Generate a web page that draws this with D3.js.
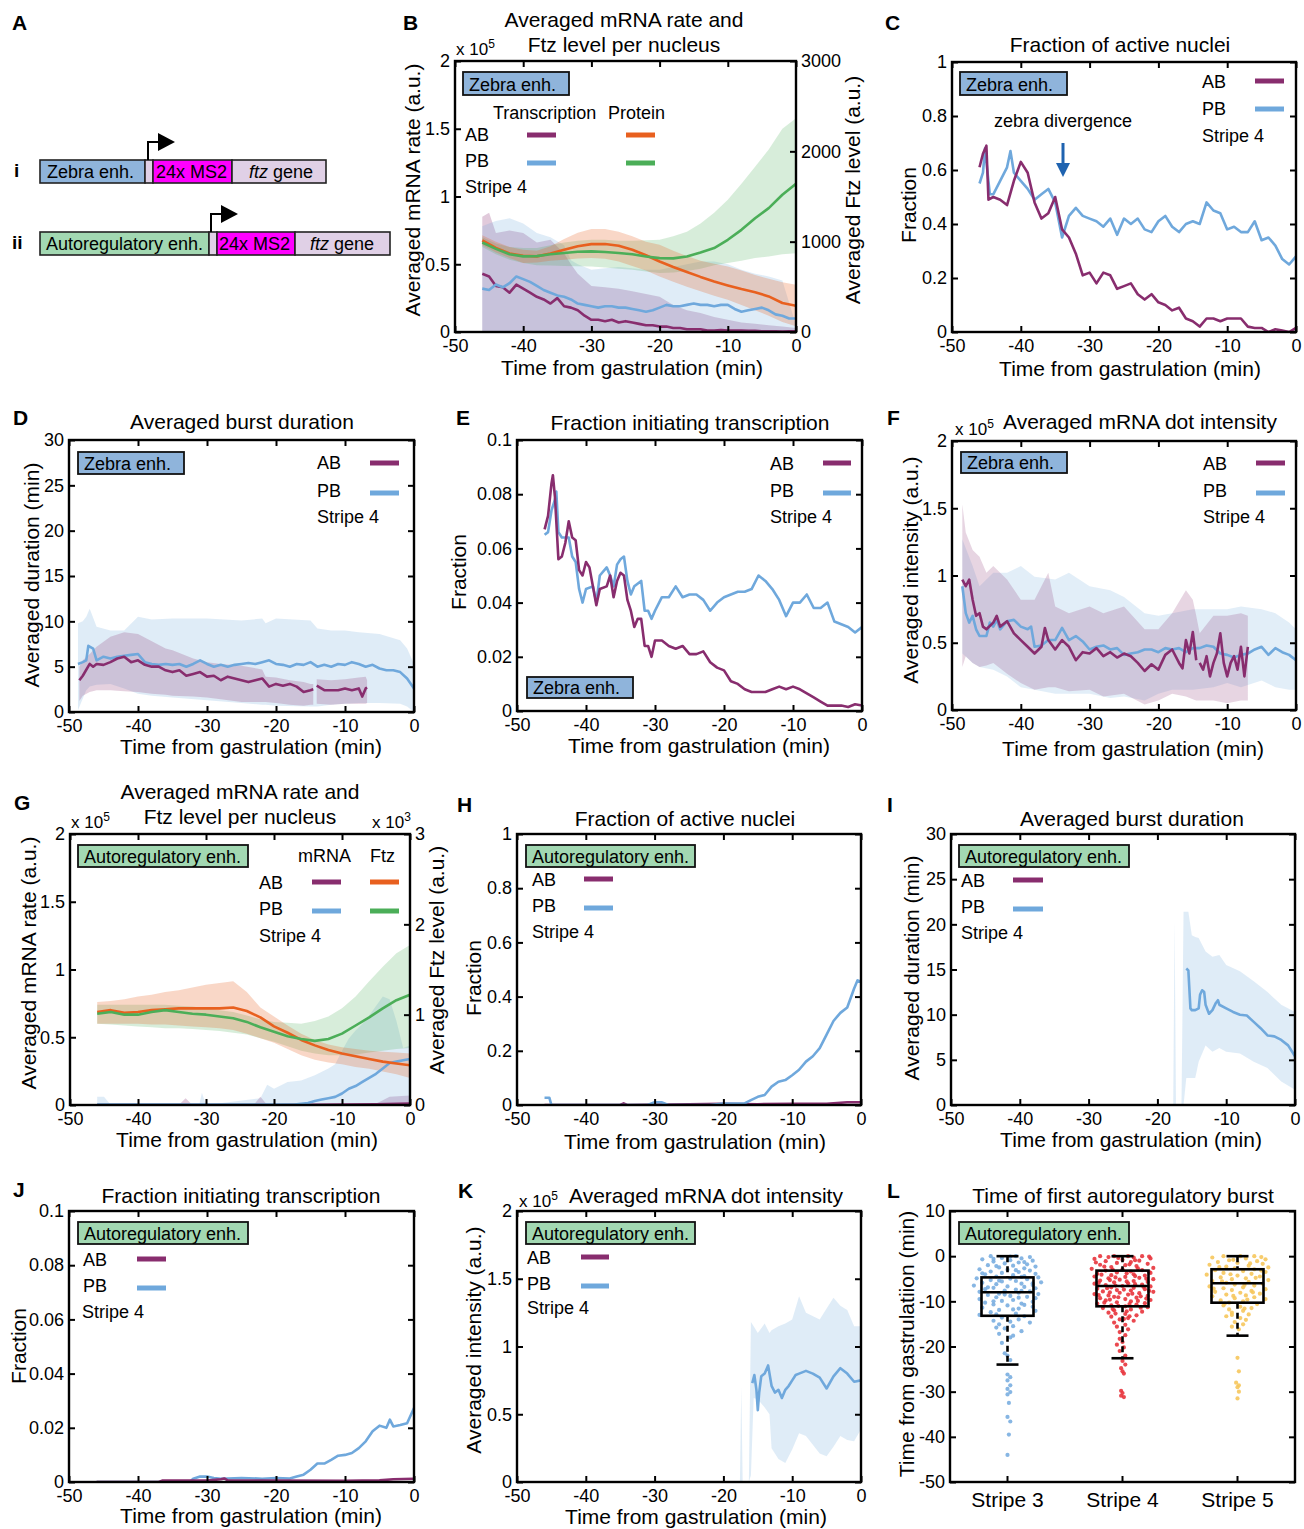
<!DOCTYPE html>
<html>
<head>
<meta charset="utf-8">
<script src="https://cdn.jsdelivr.net/npm/d3@7"></script>
<style>
body { margin: 0; background: #fff; }
</style>
</head>
<body>
<script>
// colours
var cAB = "#882d6e", cPB = "#6fa8dc", cOr = "#e8601f", cGr = "#4bae58";
var zebraFill = "#8fb4db", autoFill = "#a2d8b2", lavender = "#e0d0e6", magenta = "#ff00ff";
var FONT = '"Liberation Sans", Arial, Helvetica, sans-serif';

// ---------- B : zebra, mRNA rate (x1e5) and Ftz level ----------
var bProtT   = [-46,-44,-42,-40,-38,-36,-34,-32,-30,-28,-26,-24,-22,-20,-18,-16,-14,-12,-10,-8,-6,-4,-2,0];
var bFtzAB   = [1013,930,870,844,837,870,910,950,973,975,955,910,850,781,720,665,610,560,516,475,440,394,321,291];
var bFtzABhi = [1070,1000,940,910,900,950,1030,1100,1139,1140,1110,1060,1000,966,900,840,790,755,726,680,630,590,550,523];
var bFtzABlo = [960,880,820,763,770,790,800,815,818,810,780,730,680,615,555,500,450,400,358,300,240,180,110,63];
var bFtzPB   = [991,920,860,837,840,860,875,888,892,885,875,860,835,818,815,835,880,929,1021,1131,1260,1371,1519,1640];
var bFtzPBhi = [1050,980,940,929,930,960,990,1010,1021,1020,1010,1010,1015,1021,1060,1110,1200,1320,1463,1640,1830,2020,2250,2366];
var bFtzPBlo = [940,860,800,763,740,735,730,728,726,715,700,690,670,652,660,675,700,740,763,790,820,837,860,873];
var bRateT  = [-46,-45,-44,-43,-42,-41,-40,-39,-38,-37,-36,-35,-34,-33,-32,-31,-30,-29,-28,-27,-26,-25,-24,-23,-22,-21,-20,-19,-18,-17,-16,-15,-14,-13,-12,-11,-10,-9,-8,-7,-6,-5,-4,-3,-2,-1,0];
var bRateAB = [0.43,0.41,0.34,0.33,0.29,0.35,0.32,0.29,0.26,0.24,0.21,0.25,0.19,0.18,0.16,0.12,0.09,0.09,0.08,0.09,0.07,0.08,0.07,0.06,0.05,0.05,0.04,0.04,0.03,0.03,0.02,0.02,0.02,0.01,0.01,0.015,0.01,0.01,0.01,0.008,0.008,0.006,0.005,0.005,0.004,0.005,0.005];
var bRatePB = [0.32,0.31,0.35,0.33,0.36,0.41,0.39,0.37,0.34,0.31,0.29,0.27,0.26,0.24,0.21,0.20,0.19,0.18,0.19,0.19,0.18,0.18,0.17,0.16,0.15,0.16,0.18,0.20,0.19,0.19,0.20,0.21,0.20,0.20,0.19,0.20,0.20,0.17,0.15,0.16,0.17,0.18,0.16,0.13,0.12,0.10,0.10];
var bBandT    = [-46,-45,-44,-42,-40,-38,-36,-34,-33,-32,-30,-28,-26,-24,-22,-20,-18,-16,-14,-12,-10,-8,-6,-4,-2,0];
var bRateABhi = [0.85,0.88,0.73,0.75,0.73,0.66,0.68,0.58,0.50,0.43,0.34,0.33,0.32,0.30,0.28,0.26,0.20,0.16,0.14,0.11,0.09,0.07,0.06,0.05,0.04,0.03];
var bRatePBhi = [0.78,0.80,0.82,0.84,0.80,0.73,0.70,0.64,0.53,0.50,0.46,0.47,0.48,0.47,0.46,0.46,0.48,0.50,0.52,0.52,0.50,0.46,0.43,0.41,0.38,0.05];

// ---------- C : fraction of active nuclei (zebra) ----------
var cT_AB = [-46,-45.5,-45,-44.7,-44,-43,-42,-41,-40,-39,-38,-37,-36,-35,-34,-33,-32,-31,-30,-29,-28,-27,-26,-25,-24,-23,-22,-21,-20,-19,-18,-17,-16,-15,-14,-13,-12,-11,-10,-9,-8,-7,-6,-5,-4,-3,-2,-1,0];
var cFracAB = [0.61,0.66,0.69,0.49,0.50,0.49,0.47,0.56,0.63,0.59,0.48,0.42,0.44,0.50,0.38,0.35,0.29,0.21,0.22,0.18,0.22,0.21,0.16,0.17,0.18,0.14,0.12,0.14,0.11,0.10,0.08,0.09,0.05,0.04,0.02,0.05,0.05,0.04,0.05,0.05,0.05,0.02,0.015,0.015,0.0,0.01,0.005,0.0,0.015];
var cT_PB = [-46,-45.5,-45.2,-44.5,-44,-43,-42,-41.5,-41,-40,-39,-38,-37,-36,-35,-34,-33,-32,-31,-30,-29,-28,-27,-26,-25,-24,-23,-22,-21,-20,-19,-18,-17,-16,-15,-14,-13,-12,-11,-10,-9,-8,-7,-6,-5,-4,-3,-2,-1,0];
var cFracPB = [0.55,0.59,0.68,0.51,0.51,0.56,0.61,0.67,0.59,0.56,0.53,0.49,0.51,0.53,0.48,0.35,0.43,0.46,0.43,0.42,0.41,0.39,0.42,0.36,0.42,0.40,0.42,0.38,0.37,0.41,0.43,0.39,0.37,0.40,0.41,0.40,0.48,0.45,0.44,0.38,0.39,0.37,0.37,0.41,0.34,0.35,0.32,0.27,0.25,0.28];

// ---------- D : burst duration (zebra) ----------
var dT_AB  = [-48.5,-48,-47,-46.5,-46,-45,-44,-43,-42,-41,-40,-39,-38,-37,-36,-35,-34,-33,-32,-31,-30,-29,-28,-27,-26,-25,-24,-23,-22,-21,-20,-19,-18,-17,-16,-15,-14.6,-14.4,-14.1,-13,-12,-11,-10,-9,-8,-7.5,-7,-6.8];
var dDurAB = [3.5,4.0,5.3,5.0,5.3,5.2,5.5,5.9,6.1,5.5,5.7,5.2,5.0,5.0,4.6,4.4,4.6,4.0,4.2,4.4,3.9,4.0,3.5,3.9,3.7,3.5,3.3,3.5,3.7,2.8,3.1,2.9,3.1,2.8,2.2,2.4,2.5,NaN,2.9,2.4,2.4,2.4,2.6,2.4,2.6,1.7,2.6,2.7];
var dBandT_AB = [-48.5,-48,-47,-46,-44,-42,-40,-38,-36,-35,-32,-30,-28,-25,-22,-21.5,-20,-18,-16,-15,-14.6,-14.4,-14.1,-12,-10,-8,-7,-6.8];
var dDurABhi  = [5.0,5.7,6.4,7.2,8.3,8.8,8.6,7.8,7.0,6.8,5.9,5.5,5.3,5.1,4.7,3.9,3.8,3.5,3.3,3.1,3.1,NaN,3.6,3.5,3.6,3.8,3.9,3.5];
var dDurABlo  = [1.2,1.8,2.2,2.4,2.4,2.3,2.2,2.0,1.9,1.8,1.7,1.6,1.4,1.1,1.1,1.1,1.0,0.8,0.7,0.8,0.8,NaN,0.9,0.8,0.9,0.9,0.9,1.0];
var dT_PB  = [-48.7,-48,-47.5,-47.2,-46.5,-46,-45,-44,-43,-42,-41,-40,-39,-38,-37,-36,-35,-34,-33,-32,-31,-30,-29,-28,-27,-26,-25,-24,-23,-22,-21,-20,-19,-18,-17,-16,-15,-14,-13,-12,-11,-10,-9,-8,-7,-6,-5,-4,-3,-2,-1,0];
var dDurPB = [5.3,5.5,5.7,7.3,7.0,5.7,6.1,5.9,6.1,6.2,6.3,6.4,5.5,5.3,5.2,5.3,5.2,5.3,5.0,5.3,5.7,5.3,5.0,5.2,5.0,5.2,5.3,5.4,5.3,5.5,5.7,5.3,5.2,5.0,5.3,5.2,5.5,5.0,5.2,5.0,5.3,5.2,5.5,5.3,5.0,5.2,4.8,4.6,4.6,4.4,3.7,2.6];
var dBandT_PB = [-48.7,-48,-47.5,-47,-46,-44,-42,-40,-38,-35,-30,-25,-22,-21.5,-20,-15,-14,-12,-10,-8,-5,-2,-1,0];
var dDurPBhi  = [9.8,10.0,10.5,11.4,9.4,9.0,9.0,10.5,10.2,10.3,10.3,10.1,10.3,9.8,10.3,10.1,9.2,9.0,9.0,8.8,8.6,7.9,7.0,5.3];
var dDurPBlo  = [0.2,1.5,2.4,2.8,3.0,3.1,2.6,2.0,1.8,1.6,1.3,1.0,0.8,0.8,0.7,0.6,0.6,0.8,0.9,1.0,1.0,0.9,0.6,0.0];

// ---------- E : fraction initiating transcription (zebra) ----------
var eT_AB = [-46,-45.5,-45,-44.8,-44.5,-44,-43.5,-43,-42.5,-42,-41.5,-41,-40.5,-40,-39.5,-39,-38.5,-38,-37,-36.5,-36,-35.5,-35,-34.5,-34,-33.5,-33,-32.5,-32,-31.5,-31,-30.5,-30,-29,-28,-27,-26,-25,-24,-23,-22,-21,-20,-19,-18,-17,-16,-15,-14,-13,-12,-11,-10,-9,-8,-7,-6,-5,-4,-3,-2,-1,0];
var eInitAB = [0.067,0.072,0.084,0.087,0.079,0.056,0.057,0.062,0.070,0.064,0.063,0.052,0.050,0.055,0.053,0.046,0.039,0.045,0.046,0.050,0.042,0.048,0.051,0.050,0.041,0.037,0.031,0.034,0.034,0.024,0.024,0.020,0.026,0.026,0.024,0.023,0.024,0.021,0.021,0.022,0.018,0.016,0.015,0.011,0.010,0.008,0.007,0.007,0.007,0.008,0.009,0.008,0.009,0.008,0.0065,0.005,0.0035,0.002,0.002,0.002,0.0015,0.0025,0.002];
var eT_PB = [-46,-45.5,-45,-44.5,-44.3,-44,-43.5,-43,-42.5,-42,-41.5,-41,-40.5,-40,-39,-38.5,-38,-37,-36.5,-36,-35.5,-35,-34.5,-34,-33.5,-33,-32,-31.5,-31,-30.5,-30,-29,-28,-27,-26,-25,-24,-23,-22,-21,-20,-19,-18,-17,-16,-15,-14,-13,-12,-11,-10,-9,-8,-7,-6,-5,-4,-3,-2,-1,0];
var eInitPB = [0.065,0.066,0.074,0.078,0.081,0.066,0.064,0.064,0.064,0.057,0.055,0.045,0.040,0.045,0.046,0.040,0.050,0.053,0.050,0.046,0.054,0.056,0.057,0.048,0.043,0.046,0.048,0.037,0.037,0.034,0.037,0.042,0.042,0.046,0.042,0.043,0.043,0.041,0.037,0.040,0.042,0.043,0.044,0.044,0.045,0.050,0.048,0.045,0.041,0.035,0.040,0.040,0.043,0.038,0.038,0.040,0.033,0.032,0.031,0.029,0.031];

// ---------- F : mRNA dot intensity (zebra, x1e5) ----------
var fT_AB = [-48.5,-48,-47.5,-47,-46.5,-46,-45.5,-45,-44,-43.5,-43,-42,-41,-40,-39,-38,-37,-36.5,-36,-35,-34,-33,-32,-31,-30,-29,-28,-27,-26,-25,-24,-23,-22,-21,-20,-19,-18,-17,-16.5,-16,-15.5,-15,-14.5,-14.3,-14,-13.5,-13,-12.5,-12,-11.5,-11,-10.5,-10,-9.5,-9,-8.5,-8,-7.5,-7];
var fIntAB = [0.97,0.92,0.97,0.82,0.70,0.72,0.62,0.60,0.65,0.70,0.62,0.66,0.57,0.52,0.47,0.42,0.47,0.61,0.52,0.45,0.52,0.47,0.37,0.43,0.42,0.46,0.40,0.43,0.39,0.42,0.40,0.35,0.29,0.34,0.30,0.41,0.45,0.35,0.31,0.52,0.42,0.58,0.37,NaN,0.35,0.30,0.40,0.25,0.35,0.42,0.57,0.35,0.25,0.35,0.40,0.30,0.47,0.25,0.47];
var fT_PB = [-48.5,-48,-47.5,-47,-46.5,-46,-45,-44.5,-44,-43.5,-43,-42,-41,-40,-39,-38.5,-38,-37,-36,-35,-34,-33,-32,-31,-30,-29,-28,-27,-26,-25,-24,-23,-22,-21,-20,-19,-18,-17,-16,-15,-14,-13,-12,-11,-10,-9,-8,-7,-6,-5,-4,-3,-2,-1,0];
var fIntPB = [0.92,0.72,0.65,0.70,0.60,0.55,0.55,0.65,0.62,0.67,0.60,0.66,0.67,0.62,0.60,0.62,0.47,0.48,0.52,0.52,0.61,0.52,0.55,0.51,0.45,0.47,0.48,0.45,0.46,0.41,0.42,0.43,0.45,0.45,0.43,0.46,0.45,0.46,0.43,0.46,0.46,0.48,0.47,0.42,0.41,0.39,0.41,0.42,0.45,0.47,0.41,0.46,0.43,0.41,0.37];
var fBandT_AB = [-48.5,-48,-47,-46,-45,-44,-42,-40,-38,-36,-35,-33,-30,-28,-25,-22,-20,-18,-16,-15,-14.5,-14,-12,-10,-8,-7];
var fIntABhi  = [1.53,1.32,1.19,1.14,1.02,1.07,0.97,0.82,0.82,1.02,0.77,0.72,0.77,0.72,0.77,0.60,0.60,0.72,0.89,0.82,0.70,0.57,0.70,0.70,0.72,0.70];
var fIntABlo  = [0.32,0.40,0.35,0.32,0.33,0.35,0.27,0.20,0.15,0.17,0.17,0.14,0.15,0.10,0.12,0.04,0.07,0.12,0.10,0.08,0.07,0.07,0.07,0.05,0.07,0.07];
var fBandT_PB = [-48.5,-47,-46,-44,-42,-40,-38,-35,-33,-30,-27,-25,-22,-20,-18,-15,-12,-10,-8,-5,-3,-1,0];
var fIntPBhi  = [1.27,1.07,0.92,1.02,1.02,1.07,0.99,0.97,1.02,0.92,0.89,0.84,0.72,0.70,0.72,0.75,0.75,0.75,0.77,0.75,0.72,0.65,0.60];
var fIntPBlo  = [0.42,0.35,0.32,0.30,0.25,0.17,0.15,0.12,0.12,0.12,0.09,0.10,0.07,0.12,0.15,0.15,0.17,0.20,0.17,0.22,0.17,0.15,0.15];

// ---------- G : autoregulatory, mRNA rate (x1e5) and Ftz (x1e3) ----------
var gProtT   = [-46,-44,-42,-40,-38,-36,-34,-32,-30,-28,-26,-24,-22,-20,-18,-16,-14,-12,-10,-8,-6,-4,-2,0];
var gFtzAB   = [1.03,1.05,1.02,1.03,1.05,1.06,1.07,1.07,1.07,1.07,1.08,1.04,0.97,0.87,0.80,0.72,0.66,0.61,0.57,0.54,0.51,0.48,0.46,0.44];
var gFtzABhi = [1.14,1.15,1.17,1.20,1.22,1.25,1.27,1.30,1.33,1.35,1.37,1.25,1.08,0.98,0.88,0.79,0.72,0.67,0.64,0.62,0.60,0.59,0.58,0.57];
var gFtzABlo = [0.90,0.90,0.90,0.90,0.89,0.89,0.88,0.87,0.86,0.85,0.83,0.79,0.74,0.69,0.62,0.55,0.50,0.47,0.45,0.42,0.40,0.37,0.34,0.30];
var gFtzPB   = [1.01,1.03,1.00,1.00,1.03,1.05,1.03,1.01,1.00,0.98,0.96,0.92,0.86,0.81,0.76,0.73,0.71,0.73,0.79,0.88,0.97,1.07,1.16,1.22];
var gFtzPBhi = [1.11,1.11,1.11,1.11,1.11,1.11,1.10,1.09,1.07,1.05,1.03,0.99,0.95,0.92,0.91,0.90,0.93,0.98,1.07,1.20,1.37,1.53,1.68,1.77];
var gFtzPBlo = [0.90,0.89,0.88,0.87,0.86,0.85,0.85,0.84,0.83,0.82,0.80,0.78,0.74,0.70,0.65,0.60,0.57,0.55,0.55,0.56,0.58,0.60,0.62,0.63];
var gRateT_PB = [-46,-40,-30,-20,-17,-15,-14,-13,-12,-11,-10,-9,-8,-7,-6,-5,-4,-3,-2,-1,0];
var gRatePB   = [0.003,0.003,0.003,0.003,0.004,0.015,0.03,0.04,0.05,0.06,0.085,0.12,0.14,0.17,0.20,0.23,0.27,0.31,0.32,0.33,0.34];
var gBandT_PB = [-46,-45,-44,-31,-30.6,-30,-22,-21,-20,-18,-16,-14,-12,-11,-10,-9,-8,-7,-6,-5,-4,-3,-2,-1,0];
var gRatePBhi = [0.06,0.06,0.0,0.0,0.09,0.0,0.05,0.15,0.12,0.17,0.18,0.22,0.27,0.30,0.40,0.49,0.55,0.60,0.66,0.73,0.80,0.78,0.62,0.42,0.44];
var gRateT_AB = [-46,-20,-5,0];
var gRateAB   = [0,0,0.005,0.01];
var gBandT_AB = [-46,-34,-33,-32,-23,-22,-21,-5,-3,0];
var gRateABhi = [0,0,0.05,0,0,0.06,0,0.01,0.06,0.07];

// ---------- H : fraction of active nuclei (autoregulatory) ----------
var hT_PB = [-46,-45.3,-45,-31,-30,-29,-28,-22,-20,-17,-16,-15,-14,-13,-12,-11,-10,-9,-8,-7,-6,-5,-4,-3,-2,-1,-0.5,0];
var hFracPB = [0.027,0.027,0,0,0.01,0.01,0,0,0.005,0.005,0.018,0.03,0.037,0.068,0.086,0.092,0.11,0.13,0.16,0.18,0.21,0.26,0.31,0.34,0.36,0.43,0.46,0.455];
var hT_AB = [-46,-35,-34.5,-34,-25,-20,-15,-10,-5,-2,0];
var hFracAB = [0,0,0.006,0,0.003,0.004,0.003,0.004,0.004,0.01,0.01];

// ---------- I : burst duration (autoregulatory) ----------
var iT_PB = [-15.8,-15.5,-15.2,-15,-14.5,-14,-13.8,-13.5,-13.2,-13,-12.5,-12,-11.5,-11.2,-11,-10,-9,-8,-7,-6,-5,-4,-3,-2,-1,0];
var iDurPB = [15.1,14.9,10.7,10.5,10.5,10.7,12.2,12.7,12.5,11.1,10.1,10.5,11.3,11.6,11.1,10.7,10.3,10.0,9.9,9.2,8.5,7.7,7.6,7.2,6.6,5.4];
var iBandT = [-17.7,-17.5,-17.3,-16.5,-16.2,-15.8,-15.5,-15,-14.5,-14,-13,-12,-11,-10,-8,-6,-4,-2,0];
var iDurPBhi = [0,20.3,0,0,21.4,21.4,21.4,18.8,18.6,18.5,17.0,16.4,16.6,15.5,14.8,13.7,12.5,11.1,10.3];
var iDurPBlo = [0,0,0,0,0,3.0,3.0,3.0,3.0,4.8,6.6,5.9,6.3,5.9,5.7,4.8,4.1,2.6,1.7];

// ---------- J : fraction initiating transcription (autoregulatory) ----------
var jT_PB = [-46,-32.5,-32,-31,-30,-29,-28,-25,-22,-20,-18,-17,-16,-15,-14,-13,-12,-11,-10,-9,-8,-7,-6,-5,-4,-3.5,-3,-2,-1,0];
var jInitPB = [0,0,0.0012,0.002,0.002,0.0015,0.0012,0.0015,0.0012,0.0015,0.0013,0.002,0.0027,0.0045,0.0068,0.0068,0.0082,0.0097,0.010,0.0107,0.0125,0.015,0.0187,0.0208,0.020,0.023,0.0205,0.021,0.0217,0.0273];
var jT_AB = [-46,-37,-36.5,-30,-28,-27.5,-27,-20,-10,-5,-3,0];
var jInitAB = [0,0,0.0005,0.0005,0.001,0.0013,0.0006,0.0005,0.0004,0.0006,0.001,0.0012];

// ---------- K : mRNA dot intensity (autoregulatory, x1e5) ----------
var kT_PB = [-15.8,-15.5,-15.2,-15,-14.8,-14.5,-14,-13.5,-13,-12.5,-12,-11.5,-11,-10.5,-10,-9.5,-9,-8,-7,-6,-5,-4,-3,-2,-1,0];
var kIntPB = [0.73,0.79,0.68,0.53,0.66,0.78,0.80,0.86,0.71,0.66,0.68,0.62,0.68,0.71,0.75,0.79,0.80,0.82,0.80,0.77,0.69,0.78,0.84,0.80,0.74,0.75];
var kBandT = [-17.6,-17.4,-17.2,-16.3,-16,-15.6,-15,-14,-13.3,-13,-12,-11,-10,-9,-8,-6,-5,-4,-3,-2,-1,0];
var kIntPBhi = [0,0.7,0,0,1.18,1.15,1.10,1.17,1.10,1.12,1.15,1.17,1.20,1.37,1.25,1.20,1.28,1.36,1.30,1.27,1.15,1.15];
var kIntPBlo = [0,0,0,0,0.05,0.62,0.61,0.55,0.50,0.25,0.17,0.14,0.24,0.36,0.34,0.21,0.19,0.26,0.34,0.31,0.30,0.39];

// ---------- L : time of first autoregulatory burst ----------
var stripes = ["Stripe 3", "Stripe 4", "Stripe 5"];
var boxQ1  = [-13.2, -11.1, -10.3];
var boxMed = [-8.0, -6.6, -6.0];
var boxQ3  = [-4.7, -3.2, -2.9];
var whiskLo = [-24.0, -22.6, -17.6];
var whiskHi = [0, 0, 0];
var dotColors = ["#7aaee0", "#e8343c", "#f6c75c"];
// [time, horizontal jitter (-1..1)]
var s3Pts = [[0,-0.6],[0,0.3],[-0.2,0.8],[-0.4,-0.2],[-0.5,0.5],[-0.7,-0.9],[-0.9,0.1],[-1.0,0.9],[-1.2,-0.5],[-1.4,0.4],[-1.6,-0.1],[-1.8,0.7],[-2.0,-0.7],[-2.1,0.2],[-2.3,1.0],[-2.5,-0.3],[-2.7,0.6],[-2.9,-1.0],[-3.0,0.0],[-3.2,0.8],[-3.4,-0.6],[-3.5,0.4],[-3.7,-0.2],[-3.9,1.0],[-4.0,-0.8],[-4.2,0.2],[-4.4,0.6],[-4.5,-0.4],[-4.7,1.1],[-4.9,-1.1],[-5.0,0.1],[-5.1,0.7],[-5.3,-0.6],[-5.5,0.3],[-5.6,-0.2],[-5.8,1.2],[-5.9,-0.9],[-6.1,0.5],[-6.2,-0.4],[-6.4,0.9],[-6.5,-1.2],[-6.7,0.0],[-6.8,0.6],[-7.0,-0.5],[-7.1,1.0],[-7.3,-0.8],[-7.4,0.3],[-7.6,-0.1],[-7.8,0.8],[-7.9,-1.0],[-8.1,0.4],[-8.3,-0.3],[-8.4,1.1],[-8.6,-0.7],[-8.8,0.1],[-9.0,0.7],[-9.1,-0.4],[-9.3,1.0],[-9.5,-1.0],[-9.7,0.2],[-9.9,-0.2],[-10.1,0.9],[-10.3,-0.8],[-10.5,0.5],[-10.7,-0.5],[-10.9,0.0],[-11.2,0.9],[-11.4,-0.9],[-11.6,0.4],[-11.9,-0.3],[-12.1,1.0],[-12.4,-0.6],[-12.7,0.3],[-13.0,-1.0],[-13.3,0.6],[-13.6,-0.2],[-14.0,0.4],[-14.3,-0.5],[-14.7,0.8],[-15.1,-0.3],[-15.5,0.2],[-16.0,-0.1],[-16.6,0.5],[-17.2,-0.3],[-18.0,0.1],[-19.2,-0.2],[-21.5,-0.1],[-22.0,0.0],[-23.0,0.1],[-26.2,0.0],[-26.8,0.1],[-27.5,0.0],[-28.6,0.1],[-29.4,0.0],[-30.1,0.1],[-30.6,0.0],[-32.5,0.05],[-35.6,0.0],[-36.6,0.1],[-39.5,0.05],[-44.0,0.0],
  [-0.1,0.1],[-0.6,-0.5],[-1.3,0.6],[-2.2,-0.4],[-3.1,0.3],[-3.8,-0.9],[-4.6,0.5],[-5.4,-0.3],[-6.0,0.9],[-6.9,-0.7],[-7.7,0.5],[-8.5,-0.1],[-9.2,0.4],[-10.0,-0.5],[-10.8,0.6],[-11.8,0.2],[-12.9,-0.4],[-14.5,0.1],[-15.8,-0.4],[-17.6,0.2]];
var s4Pts = [[0,-0.8],[0,-0.3],[0,0.2],[0,0.7],[-0.2,-0.5],[-0.3,0.4],[-0.5,1.0],[-0.6,-1.0],[-0.8,0.0],[-1.0,0.6],[-1.1,-0.6],[-1.3,0.3],[-1.5,-0.2],[-1.7,0.9],[-1.9,-0.8],[-2.0,0.1],[-2.2,0.5],[-2.4,-0.4],[-2.6,1.1],[-2.8,-1.1],[-2.9,0.0],[-3.1,0.7],[-3.2,-0.6],[-3.4,0.3],[-3.6,-0.2],[-3.7,1.0],[-3.9,-0.9],[-4.0,0.4],[-4.2,-0.4],[-4.3,0.8],[-4.5,-1.0],[-4.6,0.1],[-4.8,0.6],[-4.9,-0.5],[-5.1,1.1],[-5.2,-0.1],[-5.4,-0.8],[-5.5,0.4],[-5.7,0.9],[-5.8,-0.3],[-6.0,0.2],[-6.1,-1.0],[-6.3,0.7],[-6.4,-0.6],[-6.6,0.0],[-6.7,1.0],[-6.9,-0.4],[-7.0,0.4],[-7.2,-0.9],[-7.3,0.8],[-7.5,-0.2],[-7.6,0.3],[-7.8,-0.7],[-7.9,1.1],[-8.1,-0.1],[-8.2,0.6],[-8.4,-1.0],[-8.5,0.2],[-8.7,-0.5],[-8.8,0.9],[-9.0,-0.3],[-9.2,0.5],[-9.3,-0.8],[-9.5,0.1],[-9.7,1.0],[-9.8,-0.6],[-10.0,0.3],[-10.2,-0.2],[-10.4,0.8],[-10.5,-0.9],[-10.7,0.5],[-10.9,-0.4],[-11.1,0.1],[-11.3,0.9],[-11.5,-0.7],[-11.8,0.3],[-12.0,-0.3],[-12.3,0.7],[-12.5,-0.5],[-12.8,0.1],[-13.1,0.5],[-13.4,-0.4],[-13.7,0.2],[-14.0,-0.1],[-14.3,0.4],[-14.7,-0.3],[-15.2,0.1],[-15.6,-0.2],[-16.2,0.2],[-16.8,-0.1],[-17.5,0.1],[-18.3,-0.1],[-19.0,0.0],[-19.6,-0.2],[-20.2,0.05],[-21.0,-0.1],[-22.0,0.1],[-23.2,0.0],[-24.0,0.1],[-24.8,-0.05],[-25.5,0.0],[-26.0,0.05],[-29.8,-0.05],[-30.3,0.0],[-30.9,-0.05],[-31.2,0.05],
  [-0.1,0.95],[-0.4,-0.15],[-0.9,0.45],[-1.4,-0.95],[-1.8,0.25],[-2.3,-0.65],[-2.7,0.55],[-3.0,-0.35],[-3.5,0.95],[-3.8,0.15],[-4.1,-0.75],[-4.4,0.45],[-4.7,-0.25],[-5.0,0.85],[-5.3,-0.45],[-5.6,0.15],[-5.9,-0.85],[-6.2,0.45],[-6.5,-0.25],[-6.8,0.75],[-7.1,-0.55],[-7.4,0.05],[-7.7,0.95],[-8.0,-0.45],[-8.3,0.35],[-8.6,-0.85],[-8.9,0.65],[-9.1,-0.15],[-9.4,0.85],[-9.6,-0.45],[-9.9,0.55],[-10.3,-0.65],[-10.6,0.25],[-11.0,-0.15],[-11.4,0.65],[-11.7,-0.35],[-12.2,0.15],[-12.7,-0.25],[-13.3,0.25],[-13.9,0.05]];
var s5Pts = [[0,-0.5],[0,0.1],[0,0.6],[-0.3,-0.9],[-0.5,0.3],[-0.7,1.0],[-0.9,-0.3],[-1.1,0.7],[-1.3,-0.7],[-1.5,0.0],[-1.7,0.9],[-1.9,-1.0],[-2.1,0.4],[-2.3,-0.4],[-2.5,1.1],[-2.7,-0.1],[-2.9,0.6],[-3.1,-0.8],[-3.3,0.2],[-3.5,1.0],[-3.7,-0.5],[-3.9,0.5],[-4.1,-1.1],[-4.3,0.0],[-4.5,0.8],[-4.7,-0.6],[-4.9,0.3],[-5.1,-0.2],[-5.3,1.1],[-5.5,-0.9],[-5.7,0.4],[-5.9,-0.4],[-6.1,0.9],[-6.3,-0.1],[-6.5,0.6],[-6.7,-1.0],[-6.9,0.2],[-7.1,-0.5],[-7.3,1.0],[-7.5,-0.2],[-7.7,0.5],[-7.9,-0.8],[-8.1,0.1],[-8.3,0.8],[-8.5,-0.4],[-8.7,0.3],[-8.9,-0.9],[-9.1,0.6],[-9.3,-0.1],[-9.5,1.0],[-9.8,-0.6],[-10.0,0.2],[-10.3,-0.3],[-10.6,0.7],[-10.9,-0.5],[-11.2,0.1],[-11.5,0.5],[-11.8,-0.3],[-12.1,0.2],[-12.5,-0.2],[-12.9,0.4],[-13.3,-0.4],[-13.7,0.1],[-14.1,0.3],[-14.6,-0.1],[-15.1,0.2],[-15.6,-0.2],[-16.2,0.05],[-22.5,0.0],[-25.5,0.05],[-28.0,-0.05],[-28.6,0.05],[-29.0,0.0],[-30.0,0.05],[-31.5,0.0],
  [-0.2,0.85],[-0.8,-0.15],[-1.6,0.45],[-2.4,-0.65],[-3.2,0.85],[-4.0,-0.25],[-4.8,0.65],[-5.6,-0.55],[-6.4,0.25],[-7.2,-0.85],[-8.0,0.55],[-8.8,-0.15],[-9.6,0.35],[-10.5,-0.45],[-11.6,0.25],[-13.0,-0.2]];

var timeTicks = [-50,-40,-30,-20,-10,0];

var svg = d3.select("body").append("svg")
    .attr("width", 1304).attr("height", 1529)
    .style("font-family", FONT);

var fmt = function(d) { return String(d); };

function txt(x, y, s, size, anchor, weight) {
    return svg.append("text").attr("x", x).attr("y", y)
        .attr("font-size", size || 18)
        .attr("text-anchor", anchor || "start")
        .attr("font-weight", weight || "normal")
        .text(s);
}
// rotated axis title, bx = baseline x
function vtxt(bx, cy, s) {
    svg.append("text").attr("transform", "translate(" + bx + "," + cy + ") rotate(-90)")
        .attr("text-anchor", "middle").attr("font-size", 21).text(s);
}
function expo(x, y, p) {
    var t = txt(x, y, "x 10", 17);
    t.append("tspan").attr("dy", -7).attr("font-size", 12).text(p);
}
function tag(x, y, w, h, label, fill) {
    svg.append("rect").attr("x", x).attr("y", y).attr("width", w).attr("height", h)
        .attr("fill", fill).attr("stroke", "#111").attr("stroke-width", 1.8);
    txt(x + 6, y + h - 4, label, 18);
}
function keyLine(x1, x2, y, color) {
    svg.append("line").attr("x1", x1).attr("x2", x2).attr("y1", y).attr("y2", y)
        .attr("stroke", color).attr("stroke-width", 5);
}

function styleAxis(sel, size) {
    sel.attr("font-family", FONT).attr("font-size", size || 18);
    sel.select(".domain").remove();
    sel.selectAll(".tick line").attr("stroke", "#000").attr("stroke-width", 2);
    sel.selectAll(".tick text").attr("fill", "#000");
}

var clipN = 0;
function makePanel(p) {
    var g = svg.append("g").attr("transform", "translate(" + p.x + "," + p.y + ")");
    var x = d3.scaleLinear().domain([-50, 0]).range([0, p.w]);
    var y = d3.scaleLinear().domain(p.yDom).range([p.h, 0]);
    var id = "clip" + (clipN++);
    g.append("clipPath").attr("id", id).append("rect").attr("width", p.w).attr("height", p.h);
    var plot = g.append("g").attr("clip-path", "url(#" + id + ")");
    return { g: g, plot: plot, x: x, y: y, p: p };
}

function finishPanel(P, yr, yrTicks) {
    var g = P.g, p = P.p;
    styleAxis(g.append("g").attr("transform", "translate(0," + p.h + ")")
        .call(d3.axisBottom(P.x).tickValues(timeTicks).tickFormat(fmt).tickSizeInner(-6).tickSizeOuter(0).tickPadding(7)));
    styleAxis(g.append("g")
        .call(d3.axisTop(P.x).tickValues(timeTicks).tickFormat("").tickSizeInner(-6).tickSizeOuter(0)));
    styleAxis(g.append("g")
        .call(d3.axisLeft(P.y).tickValues(p.yTicks).tickFormat(fmt).tickSizeInner(-6).tickSizeOuter(0).tickPadding(5)));
    var right = d3.axisRight(yr || P.y).tickValues(yrTicks || p.yTicks).tickSizeInner(-6).tickSizeOuter(0).tickPadding(5);
    right.tickFormat(yr ? fmt : "");
    styleAxis(g.append("g").attr("transform", "translate(" + p.w + ",0)").call(right));
    g.append("rect").attr("width", p.w).attr("height", p.h)
        .attr("fill", "none").attr("stroke", "#000").attr("stroke-width", 2.4);
}

function band(P, t, hi, lo, color, op, ys) {
    var y = ys || P.y;
    var data = t.map(function(d, i) { return [d, hi[i], lo ? lo[i] : 0]; });
    P.plot.append("path").datum(data)
        .attr("fill", color).attr("fill-opacity", op)
        .attr("d", d3.area().defined(function(d) { return !isNaN(d[1]); })
            .x(function(d) { return P.x(d[0]); })
            .y0(function(d) { return y(d[2]); })
            .y1(function(d) { return y(d[1]); }));
}
function line(P, t, v, color, ys, w) {
    var y = ys || P.y;
    P.plot.append("path").datum(d3.zip(t, v))
        .attr("fill", "none").attr("stroke", color).attr("stroke-width", w || 2.6)
        .attr("stroke-linejoin", "round")
        .attr("d", d3.line().defined(function(d) { return !isNaN(d[1]); })
            .x(function(d) { return P.x(d[0]); })
            .y(function(d) { return y(d[1]); }));
}

// ================= A : constructs =================
txt(12, 30, "A", 21, "start", "bold");
function construct(y, segs, arrowX) {
    segs.forEach(function(s) {
        svg.append("rect").attr("x", s[0]).attr("y", y).attr("width", s[1] - s[0]).attr("height", 23)
            .attr("fill", s[2]).attr("stroke", "#222").attr("stroke-width", 1.6);
    });
    svg.append("path").attr("d", "M" + arrowX + "," + y + "V" + (y - 18) + "H" + (arrowX + 12))
        .attr("fill", "none").attr("stroke", "#000").attr("stroke-width", 2);
    svg.append("path").attr("d", "M" + (arrowX + 10) + "," + (y - 27) + "L" + (arrowX + 27) + "," + (y - 18) + "L" + (arrowX + 10) + "," + (y - 9) + "Z")
        .attr("fill", "#000");
}
construct(160, [[40, 145, zebraFill], [145, 153, lavender], [153, 232, magenta], [232, 326, lavender]], 148);
txt(47, 178, "Zebra enh.");
txt(156, 178, "24x MS2");
var ft1 = txt(249, 178, "");
ft1.append("tspan").attr("font-style", "italic").text("ftz");
ft1.append("tspan").text(" gene");
txt(14, 177, "i", 19, "start", "bold");

construct(232, [[40, 209, autoFill], [209, 217, lavender], [217, 295, magenta], [295, 390, lavender]], 211);
txt(46, 250, "Autoregulatory enh.");
txt(219, 250, "24x MS2");
var ft2 = txt(310, 250, "");
ft2.append("tspan").attr("font-style", "italic").text("ftz");
ft2.append("tspan").text(" gene");
txt(12, 249, "ii", 19, "start", "bold");

// ================= B =================
txt(403, 30, "B", 21, "start", "bold");
var B = makePanel({ x: 455, y: 61, w: 341, h: 271, yDom: [0, 2], yTicks: [0, 0.5, 1, 1.5, 2] });
var bR = d3.scaleLinear().domain([0, 3000]).range([271, 0]);
band(B, bBandT, bRateABhi, null, cAB, 0.25);
band(B, bBandT, bRatePBhi, null, cPB, 0.22);
band(B, bProtT, bFtzPBhi, bFtzPBlo, cGr, 0.22, bR);
band(B, bProtT, bFtzABhi, bFtzABlo, cOr, 0.25, bR);
line(B, bRateT, bRateAB, cAB);
line(B, bRateT, bRatePB, cPB);
line(B, bProtT, bFtzAB, cOr, bR);
line(B, bProtT, bFtzPB, cGr, bR);
finishPanel(B, bR, [0, 1000, 2000, 3000]);
txt(624, 27, "Averaged mRNA rate and", 21, "middle");
txt(624, 52, "Ftz level per nucleus", 21, "middle");
expo(456, 55, "5");
vtxt(420, 190, "Averaged mRNA rate (a.u.)");
vtxt(860, 190, "Averaged Ftz level (a.u.)");
txt(632, 375, "Time from gastrulation (min)", 21, "middle");
tag(463, 72, 106, 23, "Zebra enh.", zebraFill);
txt(493, 119, "Transcription");
txt(608, 119, "Protein");
txt(465, 141, "AB"); txt(465, 167, "PB"); txt(465, 193, "Stripe 4");
keyLine(527, 556, 135, cAB); keyLine(626, 655, 135, cOr);
keyLine(527, 556, 163, cPB); keyLine(626, 655, 163, cGr);

// ================= C =================
txt(885, 30, "C", 21, "start", "bold");
var C = makePanel({ x: 952, y: 62, w: 344, h: 270, yDom: [0, 1], yTicks: [0, 0.2, 0.4, 0.6, 0.8, 1] });
line(C, cT_PB, cFracPB, cPB);
line(C, cT_AB, cFracAB, cAB);
finishPanel(C);
txt(1120, 52, "Fraction of active nuclei", 21, "middle");
vtxt(916, 205, "Fraction");
txt(1130, 376, "Time from gastrulation (min)", 21, "middle");
tag(960, 72, 107, 23, "Zebra enh.", zebraFill);
txt(1202, 88, "AB"); txt(1202, 115, "PB"); txt(1202, 142, "Stripe 4");
keyLine(1255, 1284, 81, cAB); keyLine(1255, 1284, 109, cPB);
txt(1063, 127, "zebra divergence", 18, "middle");
svg.append("line").attr("x1", 1063).attr("x2", 1063).attr("y1", 143).attr("y2", 166)
    .attr("stroke", "#1f63b0").attr("stroke-width", 3);
svg.append("path").attr("d", "M1056,163L1070,163L1063,177Z").attr("fill", "#1f63b0");

// ================= D =================
txt(13, 425, "D", 21, "start", "bold");
var D = makePanel({ x: 69, y: 440, w: 345, h: 272, yDom: [0, 30], yTicks: [0, 5, 10, 15, 20, 25, 30] });
band(D, dBandT_PB, dDurPBhi, dDurPBlo, cPB, 0.22);
band(D, dBandT_AB, dDurABhi, dDurABlo, cAB, 0.22);
line(D, dT_PB, dDurPB, cPB);
line(D, dT_AB, dDurAB, cAB);
finishPanel(D);
txt(242, 429, "Averaged burst duration", 21, "middle");
vtxt(39, 575, "Averaged duration (min)");
txt(251, 754, "Time from gastrulation (min)", 21, "middle");
tag(78, 452, 106, 22, "Zebra enh.", zebraFill);
txt(317, 469, "AB"); txt(317, 497, "PB"); txt(317, 523, "Stripe 4");
keyLine(370, 399, 463, cAB); keyLine(370, 399, 493, cPB);

// ================= E =================
txt(456, 425, "E", 21, "start", "bold");
var E = makePanel({ x: 517, y: 440, w: 345, h: 271, yDom: [0, 0.1], yTicks: [0, 0.02, 0.04, 0.06, 0.08, 0.1] });
line(E, eT_PB, eInitPB, cPB);
line(E, eT_AB, eInitAB, cAB);
finishPanel(E);
txt(690, 430, "Fraction initiating transcription", 21, "middle");
vtxt(466, 572, "Fraction");
txt(699, 753, "Time from gastrulation (min)", 21, "middle");
tag(527, 677, 106, 21, "Zebra enh.", zebraFill);
txt(770, 470, "AB"); txt(770, 497, "PB"); txt(770, 523, "Stripe 4");
keyLine(823, 851, 463, cAB); keyLine(823, 851, 493, cPB);

// ================= F =================
txt(887, 425, "F", 21, "start", "bold");
var F = makePanel({ x: 952, y: 441, w: 344, h: 269, yDom: [0, 2], yTicks: [0, 0.5, 1, 1.5, 2] });
band(F, fBandT_PB, fIntPBhi, fIntPBlo, cPB, 0.2);
band(F, fBandT_AB, fIntABhi, fIntABlo, cAB, 0.2);
line(F, fT_PB, fIntPB, cPB);
line(F, fT_AB, fIntAB, cAB);
finishPanel(F);
txt(1140, 429, "Averaged mRNA dot intensity", 21, "middle");
expo(955, 435, "5");
vtxt(918, 570, "Averaged intensity (a.u.)");
txt(1133, 756, "Time from gastrulation (min)", 21, "middle");
tag(961, 452, 106, 21, "Zebra enh.", zebraFill);
txt(1203, 470, "AB"); txt(1203, 497, "PB"); txt(1203, 523, "Stripe 4");
keyLine(1256, 1285, 463, cAB); keyLine(1256, 1285, 493, cPB);

// ================= G =================
txt(14, 810, "G", 21, "start", "bold");
var G = makePanel({ x: 70, y: 834, w: 340, h: 271, yDom: [0, 2], yTicks: [0, 0.5, 1, 1.5, 2] });
var gR = d3.scaleLinear().domain([0, 3]).range([271, 0]);
band(G, gBandT_AB, gRateABhi, null, cAB, 0.25);
band(G, gBandT_PB, gRatePBhi, null, cPB, 0.22);
band(G, gProtT, gFtzPBhi, gFtzPBlo, cGr, 0.22, gR);
band(G, gProtT, gFtzABhi, gFtzABlo, cOr, 0.25, gR);
line(G, gRateT_AB, gRateAB, cAB);
line(G, gRateT_PB, gRatePB, cPB);
line(G, gProtT, gFtzAB, cOr, gR);
line(G, gProtT, gFtzPB, cGr, gR);
finishPanel(G, gR, [0, 1, 2, 3]);
txt(240, 799, "Averaged mRNA rate and", 21, "middle");
txt(240, 824, "Ftz level per nucleus", 21, "middle");
expo(71, 828, "5");
expo(372, 828, "3");
vtxt(36, 963, "Averaged mRNA rate (a.u.)");
vtxt(444, 960, "Averaged Ftz level (a.u.)");
txt(247, 1147, "Time from gastrulation (min)", 21, "middle");
tag(78, 845, 170, 22, "Autoregulatory enh.", autoFill);
txt(298, 862, "mRNA"); txt(370, 862, "Ftz");
txt(259, 889, "AB"); txt(259, 915, "PB"); txt(259, 942, "Stripe 4");
keyLine(312, 341, 882, cAB); keyLine(370, 399, 882, cOr);
keyLine(312, 341, 911, cPB); keyLine(370, 399, 911, cGr);

// ================= H =================
txt(457, 812, "H", 21, "start", "bold");
var H = makePanel({ x: 517, y: 834, w: 344, h: 271, yDom: [0, 1], yTicks: [0, 0.2, 0.4, 0.6, 0.8, 1] });
line(H, hT_AB, hFracAB, cAB);
line(H, hT_PB, hFracPB, cPB);
finishPanel(H);
txt(685, 826, "Fraction of active nuclei", 21, "middle");
vtxt(481, 978, "Fraction");
txt(695, 1149, "Time from gastrulation (min)", 21, "middle");
tag(526, 845, 169, 22, "Autoregulatory enh.", autoFill);
txt(532, 886, "AB"); txt(532, 912, "PB"); txt(532, 938, "Stripe 4");
keyLine(584, 613, 879, cAB); keyLine(584, 613, 908, cPB);

// ================= I =================
txt(887, 812, "I", 21, "start", "bold");
var I = makePanel({ x: 951, y: 834, w: 344, h: 271, yDom: [0, 30], yTicks: [0, 5, 10, 15, 20, 25, 30] });
band(I, iBandT, iDurPBhi, iDurPBlo, cPB, 0.22);
line(I, iT_PB, iDurPB, cPB);
finishPanel(I);
txt(1132, 826, "Averaged burst duration", 21, "middle");
vtxt(919, 968, "Averaged duration (min)");
txt(1131, 1147, "Time from gastrulation (min)", 21, "middle");
tag(959, 845, 170, 22, "Autoregulatory enh.", autoFill);
txt(961, 887, "AB"); txt(961, 913, "PB"); txt(961, 939, "Stripe 4");
keyLine(1013, 1043, 880, cAB); keyLine(1013, 1043, 909, cPB);

// ================= J =================
txt(13, 1197, "J", 21, "start", "bold");
var J = makePanel({ x: 69, y: 1211, w: 345, h: 271, yDom: [0, 0.1], yTicks: [0, 0.02, 0.04, 0.06, 0.08, 0.1] });
line(J, jT_PB, jInitPB, cPB);
line(J, jT_AB, jInitAB, cAB);
finishPanel(J);
txt(241, 1203, "Fraction initiating transcription", 21, "middle");
vtxt(26, 1346, "Fraction");
txt(251, 1523, "Time from gastrulation (min)", 21, "middle");
tag(78, 1222, 170, 22, "Autoregulatory enh.", autoFill);
txt(83, 1266, "AB"); txt(83, 1292, "PB"); txt(82, 1318, "Stripe 4");
keyLine(137, 166, 1259, cAB); keyLine(137, 166, 1288, cPB);

// ================= K =================
txt(458, 1198, "K", 21, "start", "bold");
var K = makePanel({ x: 517, y: 1211, w: 344, h: 271, yDom: [0, 2], yTicks: [0, 0.5, 1, 1.5, 2] });
band(K, kBandT, kIntPBhi, kIntPBlo, cPB, 0.22);
line(K, kT_PB, kIntPB, cPB);
finishPanel(K);
txt(706, 1203, "Averaged mRNA dot intensity", 21, "middle");
expo(519, 1207, "5");
vtxt(481, 1340, "Averaged intensity (a.u.)");
txt(696, 1524, "Time from gastrulation (min)", 21, "middle");
tag(526, 1222, 169, 22, "Autoregulatory enh.", autoFill);
txt(527, 1264, "AB"); txt(527, 1290, "PB"); txt(527, 1314, "Stripe 4");
keyLine(581, 609, 1257, cAB); keyLine(581, 609, 1286, cPB);

// ================= L : box plot =================
txt(887, 1198, "L", 21, "start", "bold");
(function() {
    var w = 345, h = 271;
    var g = svg.append("g").attr("transform", "translate(950,1211)");
    var xL = d3.scaleBand().domain(stripes).range([0, w]).padding(0);
    var yL = d3.scaleLinear().domain([-50, 10]).range([h, 0]);
    var pts = [s3Pts, s4Pts, s5Pts];
    stripes.forEach(function(s, i) {
        var cx = xL(s) + xL.bandwidth() / 2;
        g.append("g").selectAll("circle").data(pts[i]).enter().append("circle")
            .attr("cx", function(d) { return cx + d[1] * 28; })
            .attr("cy", function(d) { return yL(d[0]); })
            .attr("r", 2.1).attr("fill", dotColors[i]).attr("fill-opacity", 0.9);
    });
    stripes.forEach(function(s, i) {
        var cx = xL(s) + xL.bandwidth() / 2, hw = 26, cw = 11;
        var bx = g.append("g").attr("stroke", "#000").attr("stroke-width", 2.6).attr("fill", "none");
        bx.append("line").attr("x1", cx).attr("x2", cx).attr("y1", yL(whiskHi[i])).attr("y2", yL(boxQ3[i])).attr("stroke-dasharray", "6,4");
        bx.append("line").attr("x1", cx).attr("x2", cx).attr("y1", yL(boxQ1[i])).attr("y2", yL(whiskLo[i])).attr("stroke-dasharray", "6,4");
        bx.append("line").attr("x1", cx - cw).attr("x2", cx + cw).attr("y1", yL(whiskHi[i])).attr("y2", yL(whiskHi[i]));
        bx.append("line").attr("x1", cx - cw).attr("x2", cx + cw).attr("y1", yL(whiskLo[i])).attr("y2", yL(whiskLo[i]));
        bx.append("rect").attr("x", cx - hw).attr("y", yL(boxQ3[i])).attr("width", 2 * hw).attr("height", yL(boxQ1[i]) - yL(boxQ3[i]));
        bx.append("line").attr("x1", cx - hw).attr("x2", cx + hw).attr("y1", yL(boxMed[i])).attr("y2", yL(boxMed[i]));
    });
    var lt = [10, 0, -10, -20, -30, -40, -50];
    styleAxis(g.append("g").attr("transform", "translate(0," + h + ")")
        .call(d3.axisBottom(xL).tickSizeInner(-6).tickSizeOuter(0).tickPadding(10)), 21);
    styleAxis(g.append("g").call(d3.axisTop(xL).tickFormat("").tickSizeInner(-6).tickSizeOuter(0)));
    styleAxis(g.append("g").call(d3.axisLeft(yL).tickValues(lt).tickFormat(fmt).tickSizeInner(-6).tickSizeOuter(0).tickPadding(5)));
    styleAxis(g.append("g").attr("transform", "translate(" + w + ",0)")
        .call(d3.axisRight(yL).tickValues(lt).tickFormat("").tickSizeInner(-6).tickSizeOuter(0)));
    g.append("rect").attr("width", w).attr("height", h).attr("fill", "none").attr("stroke", "#000").attr("stroke-width", 2.4);
})();
txt(1123, 1203, "Time of first autoregulatory burst", 21, "middle");
vtxt(914, 1344, "Time from gastrulatiion (min)");
tag(959, 1222, 170, 22, "Autoregulatory enh.", autoFill);
</script>
</body>
</html>
